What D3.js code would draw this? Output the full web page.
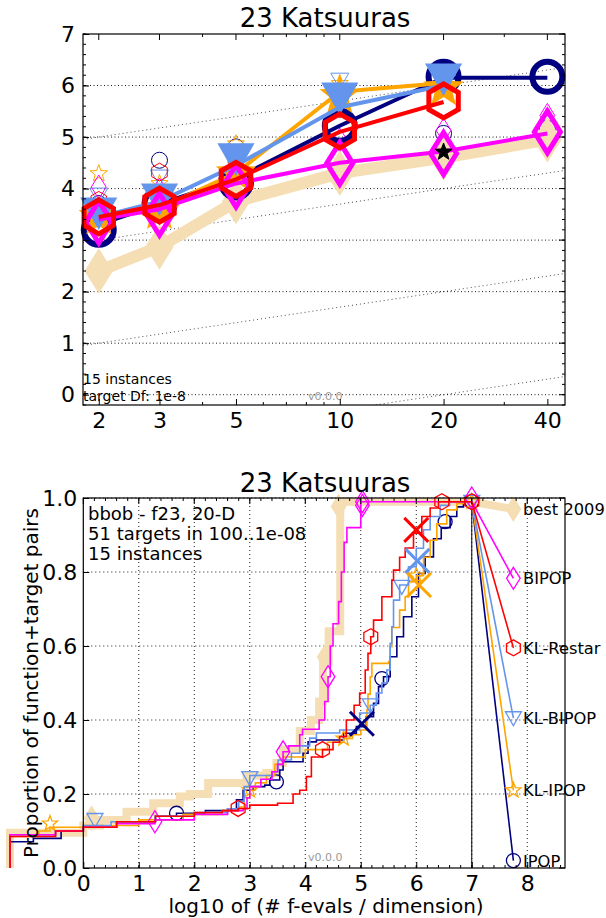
<!DOCTYPE html>
<html><head><meta charset="utf-8">
<script src="https://cdn.jsdelivr.net/npm/d3@7"></script>
<style>body{margin:0;background:#fff} svg{display:block} text{font-family:"DejaVu Sans",sans-serif}</style>
</head><body><svg id="c" width="606" height="918"></svg>
<script>
// ---------------- data ----------------
const title = "23 Katsuuras";
const dims = [2, 3, 5, 10, 20, 40];
const dimMinor = [4, 6, 7, 8, 9, 30];
const yTopTicks = [0, 1, 2, 3, 4, 5, 6, 7];
const algNames = ["best 2009", "BIPOP", "KL-Restar", "KL-BIPOP", "KL-IPOP", "IPOP"];
const algColors = ["wheat", "#ff00ff", "#ff0000", "#6495ed", "#ffa500", "#000080"];

// top chart: log10(ERT/dim) per dimension (null = missing)
const bestLine   = [2.4, 2.87, 3.75, 4.3, 4.6, 4.95];
const bipopLine  = [3.4, 3.6, 4.1, 4.5, 4.72, 5.07];
const bipopBig   = [3.35, 3.5, 4.05, 4.49, 4.68, 5.1];
const bipopSmall = [4.03, 3.97, 4.62, 4.94, 5.13, 5.42];
const klrLine    = [3.45, 3.68, 4.18, 5.1, 5.68, null];
const klrBig     = [3.45, 3.68, 4.18, 5.12, 5.7, null];
const klrSmall   = [3.77, 4.32, 4.58, 5.55, 6.04, null];
const klbLine    = [3.45, 3.75, 4.45, 5.58, 6.0, null];
const klbBig     = [3.55, 3.82, 4.6, 5.78, 6.15, null];
const klbSmall   = [3.87, 4.22, 4.68, 6.1, 6.05, null];
const kliLine    = [3.42, 3.62, 4.3, 5.88, 6.05, null];
const kliBig     = [3.45, 3.55, 4.3, 5.8, 5.95, null];
const kliSmall   = [4.29, 4.1, 4.87, 6.04, null, null];
const ipopLine   = [3.3, 3.7, 4.2, 5.22, 6.15, 6.15];
const ipopBig    = [3.2, 3.7, 4.12, 5.22, 6.17, 6.17];
const ipopSmall  = [3.71, 4.55, 4.81, null, 5.07, 5.17];
const bestStar   = [20, 4.71];
const slopeOffsets = [-2, 0, 2, 4];

// bottom chart: ECDF step points [log10(evals/dim), proportion]
const ecdfBest = [[-1.32,0],[-1.32,0.095],[0,0.115],[0.3,0.13],[0.78,0.152],[1.26,0.175],[1.74,0.193],[1.92,0.2],[2.25,0.23],[2.94,0.25],[3.3,0.257],[3.48,0.284],[3.6,0.32],[3.9,0.37],[4.1,0.4],[4.25,0.45],[4.32,0.56],[4.42,0.64],[4.63,0.99],[7,0.99]];
const ecdfBipop = [[-1.32,0],[-1.32,0.09],[-0.5,0.1],[0,0.11],[0.6,0.12],[1.29,0.13],[2.0,0.145],[2.6,0.155],[2.88,0.16],[2.95,0.19],[3.0,0.22],[3.2,0.24],[3.4,0.26],[3.5,0.28],[3.6,0.314],[3.7,0.33],[3.9,0.36],[3.95,0.375],[4.25,0.4],[4.35,0.45],[4.41,0.517],[4.45,0.6],[4.5,0.66],[4.6,0.72],[4.65,0.8],[4.7,0.88],[4.75,0.92],[5.0,0.99],[7,0.99]];
const ecdfKlr = [[-1.32,0],[-1.32,0.085],[-0.5,0.1],[0,0.11],[0.6,0.125],[1.3,0.14],[2.0,0.15],[2.5,0.155],[2.79,0.161],[3.0,0.17],[3.5,0.175],[3.78,0.2],[3.9,0.21],[4.02,0.247],[4.11,0.3],[4.31,0.32],[4.5,0.34],[4.62,0.355],[4.74,0.4],[4.88,0.44],[4.98,0.473],[5.08,0.535],[5.13,0.58],[5.18,0.625],[5.23,0.67],[5.38,0.733],[5.56,0.778],[5.59,0.805],[5.7,0.84],[5.8,0.865],[5.95,0.905],[6.1,0.95],[6.25,0.973],[6.4,0.99],[7,0.99]];
const ecdfKlb = [[-1.32,0],[-1.32,0.09],[-0.5,0.1],[0,0.115],[0.5,0.125],[1.3,0.14],[2.0,0.15],[2.6,0.16],[2.8,0.18],[2.9,0.22],[3.0,0.25],[3.4,0.26],[3.51,0.292],[3.75,0.31],[3.9,0.33],[4.08,0.351],[4.2,0.365],[4.62,0.373],[4.98,0.419],[5.17,0.44],[5.28,0.473],[5.38,0.5],[5.47,0.535],[5.53,0.607],[5.56,0.652],[5.59,0.724],[5.7,0.765],[5.86,0.814],[6.0,0.864],[6.13,0.914],[6.25,0.95],[6.43,0.98],[6.6,0.99],[7,0.99]];
const ecdfKli = [[-1.32,0],[-1.32,0.085],[-0.8,0.1],[-0.6,0.11],[0,0.115],[1.0,0.13],[1.8,0.145],[2.5,0.155],[2.8,0.165],[2.9,0.19],[3.0,0.21],[3.1,0.23],[3.3,0.25],[3.45,0.28],[3.6,0.3],[4.0,0.32],[4.4,0.34],[4.69,0.35],[4.85,0.36],[5.0,0.373],[5.11,0.427],[5.13,0.47],[5.17,0.517],[5.2,0.553],[5.5,0.558],[5.53,0.598],[5.56,0.65],[5.7,0.697],[5.8,0.733],[5.86,0.774],[6.0,0.79],[6.13,0.84],[6.25,0.886],[6.37,0.93],[6.55,0.968],[6.73,0.985],[6.85,0.99],[7,0.99]];
const ecdfIpop = [[-1.32,0],[-1.32,0.071],[-0.9,0.08],[-0.4,0.1],[0,0.11],[0.6,0.125],[1.3,0.14],[1.68,0.148],[2.2,0.155],[2.6,0.16],[2.76,0.184],[2.88,0.21],[3.06,0.22],[3.27,0.224],[3.36,0.238],[3.54,0.265],[3.6,0.287],[3.96,0.31],[4.05,0.341],[4.2,0.346],[4.69,0.364],[4.92,0.382],[5.1,0.409],[5.23,0.445],[5.32,0.49],[5.41,0.517],[5.53,0.571],[5.65,0.625],[5.77,0.679],[5.92,0.733],[6.04,0.796],[6.16,0.841],[6.31,0.89],[6.45,0.92],[6.61,0.95],[6.73,0.976],[6.85,0.99],[7,0.99]];
const ecdfMarksBest  = [[0.15,0.135],[4.35,0.57],[4.6,0.977]];
const ecdfMarksBipop = [[1.29,0.125],[3.6,0.314],[4.41,0.517],[5.03,0.99],[5.03,0.98],[7,1.0]];
const ecdfMarksKlr   = [[2.79,0.161],[4.31,0.32],[5.18,0.625],[6.46,0.99],[7,0.99]];
const ecdfMarksKlb   = [[0.21,0.13],[3.0,0.243],[5.17,0.44],[5.74,0.76],[7,0.99]];
const ecdfMarksKli   = [[-0.6,0.12],[3.0,0.21],[4.69,0.35],[6.0,0.79],[7,0.99]];
const ecdfMarksIpop  = [[1.68,0.148],[3.48,0.233],[5.38,0.512],[6.52,0.936],[7,0.99]];
const crossKlr = [6.0, 0.914], crossKlb = [6.02, 0.83], crossKli = [6.05, 0.765], crossIpop = [5.02, 0.39];
const labelX = 7.75;
const labelY = [0.97, 0.783, 0.595, 0.405, 0.21, 0.02];
const xBTicks = [0,1,2,3,4,5,6,7,8];
const yBTicks = [0,0.2,0.4,0.6,0.8,1.0];

// ---------------- drawing ----------------
const svg = d3.select("#c");
const FONT = '"DejaVu Sans", sans-serif';

function markerPath(type, s) {
  switch (type) {
    case "circle": { const p = d3.path(); p.moveTo(s,0); p.arc(0,0,s,0,2*Math.PI); p.closePath(); return p.toString(); }
    case "triangle": return `M${-s},${-s*0.8}L${s},${-s*0.8}L0,${s*0.95}Z`;
    case "diamond": { const w = s*0.62; return `M0,${-s}L${w},0L0,${s}L${-w},0Z`; }
    case "hexagon": { let pts=[]; for(let i=0;i<6;i++){const a=Math.PI/2+i*Math.PI/3; pts.push([s*Math.cos(a), -s*Math.sin(a)]);} return "M"+pts.map(p=>p.map(v=>v.toFixed(2)).join(",")).join("L")+"Z"; }
    case "star": { let pts=[]; for(let i=0;i<10;i++){const r=i%2?s*0.42:s; const a=-Math.PI/2+i*Math.PI/5; pts.push([r*Math.cos(a), r*Math.sin(a)]);} return "M"+pts.map(p=>p.map(v=>v.toFixed(2)).join(",")).join("L")+"Z"; }
    case "x": return `M${-s},${-s}L${s},${s}M${-s},${s}L${s},${-s}`;
  }
}
function marker(g, type, cx, cy, s, stroke, fill, sw) {
  g.append("path").attr("d", markerPath(type, s)).attr("transform", `translate(${cx},${cy})`)
    .attr("fill", fill).attr("stroke", stroke).attr("stroke-width", sw).attr("stroke-linejoin","miter");
}

// ======== TOP CHART ========
const xT = d3.scaleLog().domain([1.8, 45]).range([83, 565]);
const yT = d3.scaleLinear().domain([-0.2, 7]).range([405, 34]);
const gTop = svg.append("g");
gTop.append("defs").append("clipPath").attr("id","clipT").append("rect")
  .attr("x",83).attr("y",34).attr("width",482).attr("height",371);

gTop.append("g").selectAll("line").data(yTopTicks.filter(v=>v<7)).join("line")
  .attr("x1",83).attr("x2",565).attr("y1",d=>yT(d)).attr("y2",d=>yT(d))
  .attr("stroke","#000").attr("stroke-width",0.9).attr("stroke-dasharray","1,2.5");
const slopeG = gTop.append("g").attr("clip-path","url(#clipT)");
slopeOffsets.forEach(k => {
  slopeG.append("line").attr("x1", xT(1.8)).attr("y1", yT(k + Math.log10(1.8/0.2)))
    .attr("x2", xT(45)).attr("y2", yT(k + Math.log10(45/0.2)))
    .attr("stroke","#000").attr("stroke-width",0.7).attr("stroke-dasharray","1,3");
});

gTop.append("text").attr("x",83).attr("y",384).attr("font-size",14).text("15 instances");
gTop.append("text").attr("x",83).attr("y",400.5).attr("font-size",14).text("target Df: 1e-8");
gTop.append("text").attr("x",308).attr("y",400).attr("font-size",11).attr("fill","#999").text("v0.0.0");

const lineT = d3.line().defined(d=>d[1]!=null).x(d=>xT(d[0])).y(d=>yT(d[1]));
const zipDims = arr => dims.map((d,i)=>[d, arr[i]]);
const series = [
  {line: bestLine, big: bestLine, small: null, c: algColors[0], m: "diamond", lw: 12, fill: algColors[0], bs: 20, bsw: 3},
  {line: ipopLine, big: ipopBig, small: ipopSmall, c: algColors[5], m: "circle", lw: 4, fill: "none", bs: 15, bsw: 6},
  {line: kliLine, big: kliBig, small: kliSmall, c: algColors[4], m: "star", lw: 4, fill: algColors[4], bs: 17, bsw: 3},
  {line: klbLine, big: klbBig, small: klbSmall, c: algColors[3], m: "triangle", lw: 4, fill: algColors[3], bs: 16, bsw: 3},
  {line: bipopLine, big: bipopBig, small: bipopSmall, c: algColors[1], m: "diamond", lw: 4, fill: "none", bs: 21, bsw: 5},
  {line: klrLine, big: klrBig, small: klrSmall, c: algColors[2], m: "hexagon", lw: 4, fill: "none", bs: 17, bsw: 5},
];
const plotT = gTop.append("g");
series.forEach(s => {
  if (!s.small) return;
  zipDims(s.small).filter(d=>d[1]!=null).forEach(d =>
    marker(plotT, s.m, xT(d[0]), yT(d[1]), s.m==="diamond"?12:(s.m==="circle"?8:9), s.c, "none", 1));
});
series.forEach(s => {
  plotT.append("path").datum(zipDims(s.line)).attr("d", lineT).attr("fill","none")
    .attr("stroke", s.c).attr("stroke-width", s.lw).attr("stroke-linejoin","round");
  zipDims(s.big).filter(d=>d[1]!=null).forEach(d =>
    marker(plotT, s.m, xT(d[0]), yT(d[1]), s.bs, s.c, s.fill, s.bsw));
});
marker(plotT, "star", xT(bestStar[0]), yT(bestStar[1]), 9, "#000", "#000", 1);

gTop.append("rect").attr("x",83).attr("y",34).attr("width",482).attr("height",371)
  .attr("fill","none").attr("stroke","#000").attr("stroke-width",1.2);
const axBT = gTop.append("g").attr("transform","translate(0,405)")
  .call(d3.axisBottom(xT).tickValues(dims).tickFormat(d3.format("d")).tickSizeInner(-6).tickSizeOuter(0).tickPadding(7));
const axLT = gTop.append("g").attr("transform","translate(83,0)")
  .call(d3.axisLeft(yT).tickValues(yTopTicks).tickFormat(d3.format("d")).tickSizeInner(-6).tickSizeOuter(0).tickPadding(8));
[axBT, axLT].forEach(a => { a.select(".domain").remove(); a.selectAll("text").attr("font-size",22).attr("font-family",FONT).attr("fill","#000"); });
const tickG = gTop.append("g").attr("stroke","#000").attr("stroke-width",1);
dims.forEach(d => tickG.append("line").attr("x1",xT(d)).attr("x2",xT(d)).attr("y1",34).attr("y2",40));
dimMinor.forEach(d => { tickG.append("line").attr("x1",xT(d)).attr("x2",xT(d)).attr("y1",405).attr("y2",402);
  tickG.append("line").attr("x1",xT(d)).attr("x2",xT(d)).attr("y1",34).attr("y2",37); });
yTopTicks.forEach(v => tickG.append("line").attr("x1",565).attr("x2",559).attr("y1",yT(v)).attr("y2",yT(v)));
d3.range(-0.2, 7.0001, 0.2).forEach(v => { tickG.append("line").attr("x1",83).attr("x2",86).attr("y1",yT(v)).attr("y2",yT(v));
  tickG.append("line").attr("x1",565).attr("x2",562).attr("y1",yT(v)).attr("y2",yT(v)); });
gTop.append("text").attr("x",325).attr("y",27).attr("text-anchor","middle").attr("font-size",26).text(title);

// ======== BOTTOM CHART ========
const xB = d3.scaleLinear().domain([0, 8.68]).range([83.3, 565]);
const yB = d3.scaleLinear().domain([0, 1]).range([868, 498]);
const bot = svg.append("g");
bot.append("g").selectAll("line").data(xBTicks.filter(v=>v>0)).join("line")
  .attr("x1",d=>xB(d)).attr("x2",d=>xB(d)).attr("y1",498).attr("y2",868)
  .attr("stroke","#000").attr("stroke-width",0.9).attr("stroke-dasharray","1,3");
bot.append("g").selectAll("line").data(yBTicks.filter(v=>v>0)).join("line")
  .attr("x1",83.3).attr("x2",565).attr("y1",d=>yB(d)).attr("y2",d=>yB(d))
  .attr("stroke","#000").attr("stroke-width",0.9).attr("stroke-dasharray","1,3");
bot.append("line").attr("x1",xB(7)).attr("x2",xB(7)).attr("y1",498).attr("y2",868).attr("stroke","#000").attr("stroke-width",1);

bot.append("text").attr("x",308).attr("y",861).attr("font-size",11).attr("fill","#999").text("v0.0.0");
const info = ["bbob - f23, 20-D", "51 targets in 100..1e-08", "15 instances"];
info.forEach((t,i)=> bot.append("text").attr("x",88).attr("y",520+i*20).attr("font-size",18).text(t));

const stepLine = d3.line().x(d=>xB(d[0])).y(d=>yB(d[1])).curve(d3.curveStepAfter);
const plain = d3.line().x(d=>xB(d[0])).y(d=>yB(d[1]));
const ecdfs = [
  {d: ecdfBest, marks: ecdfMarksBest, c: algColors[0], m: "diamond", lw: 8},
  {d: ecdfIpop, marks: ecdfMarksIpop, c: algColors[5], m: "circle", lw: 1.6},
  {d: ecdfKli, marks: ecdfMarksKli, c: algColors[4], m: "star", lw: 1.6},
  {d: ecdfKlb, marks: ecdfMarksKlb, c: algColors[3], m: "triangle", lw: 1.6},
  {d: ecdfBipop, marks: ecdfMarksBipop, c: algColors[1], m: "diamond", lw: 1.6},
  {d: ecdfKlr, marks: ecdfMarksKlr, c: algColors[2], m: "hexagon", lw: 1.6},
];
const labelIdx = [0, 5, 4, 3, 1, 2];
ecdfs.forEach((e, k) => {
  const g = bot.append("g");
  g.append("path").datum(e.d).attr("d", stepLine).attr("fill","none").attr("stroke", e.c).attr("stroke-width", e.lw);
  const last = e.d[e.d.length-1];
  const li = labelIdx[k];
  g.append("path").datum([last, [labelX, labelY[li]]]).attr("d", plain).attr("fill","none")
    .attr("stroke", e.c).attr("stroke-width", k===0 ? 8 : 1.6);
  const isBest = k===0;
  e.marks.concat([[labelX, labelY[li]]]).forEach(p =>
    marker(g, e.m, xB(p[0]), yB(p[1]), isBest ? 10 : (e.m==="diamond"?11:(e.m==="circle"?7:8)), e.c, isBest ? e.c : "none", isBest ? 3 : 1.3));
});
[[crossKlr, algColors[2]], [crossKlb, algColors[3]], [crossKli, algColors[4]], [crossIpop, algColors[5]]].forEach(([p,c]) =>
  marker(bot, "x", xB(p[0]), yB(p[1]), 12, c, "none", 3));

algNames.forEach((n,i) => bot.append("text").attr("x",523).attr("y",yB(labelY[i])+6).attr("font-size",16.3).text(n));

bot.append("rect").attr("x",83.3).attr("y",498).attr("width",565-83.3).attr("height",370)
  .attr("fill","none").attr("stroke","#000").attr("stroke-width",1.2);
const axBB = bot.append("g").attr("transform","translate(0,868)")
  .call(d3.axisBottom(xB).tickValues(xBTicks).tickFormat(d3.format("d")).tickSizeInner(-6).tickSizeOuter(0).tickPadding(7));
const axLB = bot.append("g").attr("transform","translate(83.3,0)")
  .call(d3.axisLeft(yB).tickValues(yBTicks).tickFormat(d3.format(".1f")).tickSizeInner(-6).tickSizeOuter(0).tickPadding(6));
[axBB, axLB].forEach(a => { a.select(".domain").remove(); a.selectAll("text").attr("font-size",22).attr("font-family",FONT).attr("fill","#000"); });
const tickB = bot.append("g").attr("stroke","#000").attr("stroke-width",1);
xBTicks.forEach(v => tickB.append("line").attr("x1",xB(v)).attr("x2",xB(v)).attr("y1",498).attr("y2",504));
yBTicks.forEach(v => tickB.append("line").attr("x1",565).attr("x2",559).attr("y1",yB(v)).attr("y2",yB(v)));
d3.range(0.2, 8.68, 0.2).forEach(v => { tickB.append("line").attr("x1",xB(v)).attr("x2",xB(v)).attr("y1",868).attr("y2",865);
  tickB.append("line").attr("x1",xB(v)).attr("x2",xB(v)).attr("y1",498).attr("y2",501); });
bot.append("text").attr("x",325).attr("y",492).attr("text-anchor","middle").attr("font-size",26).text(title);
bot.append("text").attr("x",326).attr("y",913).attr("text-anchor","middle").attr("font-size",20).text("log10 of (# f-evals / dimension)");
bot.append("text").attr("transform","translate(38,683) rotate(-90)").attr("text-anchor","middle").attr("font-size",20).text("Proportion of function+target pairs");
</script></body></html>
